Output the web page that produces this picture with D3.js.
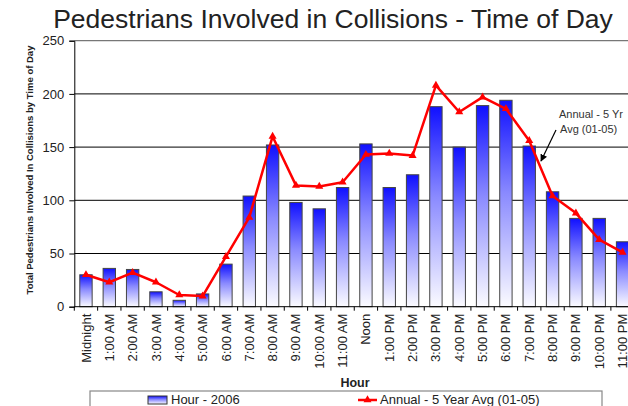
<!DOCTYPE html>
<html>
<head>
<meta charset="utf-8">
<script src="https://cdn.jsdelivr.net/npm/d3@7"></script>
<style>
  html, body { margin: 0; padding: 0; background: #fff; }
  svg { display: block; font-family: "Liberation Sans", Arial, sans-serif; }
</style>
</head>
<body>
<div id="chart"></div>
<script>
'use strict'

const hours = ["Midnight", "1:00 AM", "2:00 AM", "3:00 AM", "4:00 AM", "5:00 AM",
	"6:00 AM", "7:00 AM", "8:00 AM", "9:00 AM", "10:00 AM", "11:00 AM",
	"Noon", "1:00 PM", "2:00 PM", "3:00 PM", "4:00 PM", "5:00 PM",
	"6:00 PM", "7:00 PM", "8:00 PM", "9:00 PM", "10:00 PM", "11:00 PM"]

const hour2006 = [30, 36, 35, 14, 6, 12, 40, 104, 152, 98, 92, 112,
	153, 112, 124, 188, 150, 189, 194, 151, 108, 83, 83, 61]

const avg5yr = [30, 23, 32, 23, 11, 10, 47, 84, 160, 114, 113, 117,
	143, 144, 142, 208, 183, 197, 186, 156, 104, 88, 63, 51]

const yTicks = [0, 50, 100, 150, 200, 250]

function drawChart(){

	let width = 628, height = 406
	let plot = {left: 74.3, top: 40.7, bottom: 306.7, band: 23.33}

	let svg = d3.select("#chart").append("svg")
		.attr("width", width).attr("height", height)

	let defs = svg.append("defs")
	let grad = defs.append("linearGradient").attr("id", "barGrad")
		.attr("x1", 0).attr("y1", 0).attr("x2", 0).attr("y2", 1)
	grad.append("stop").attr("offset", "0%").attr("stop-color", "#1010ff")
	grad.append("stop").attr("offset", "45%").attr("stop-color", "#8a8aff")
	grad.append("stop").attr("offset", "100%").attr("stop-color", "#fbfbff")

	let xScale = d3.scaleBand().domain(hours)
		.range([plot.left, plot.left + plot.band * hours.length])
		.paddingInner(0.47).paddingOuter(0.235)
	let xPoint = d3.scaleBand().domain(hours)
		.range([plot.left, plot.left + plot.band * hours.length])
	let yScale = d3.scaleLinear().domain([0, 250]).range([plot.bottom, plot.top])

	// title
	svg.append("text")
		.attr("x", 333).attr("y", 28)
		.attr("text-anchor", "middle")
		.attr("font-size", 26.5)
		.attr("fill", "#222")
		.text("Pedestrians Involved in Collisions - Time of Day")

	// gridlines
	svg.append("g").selectAll("line")
		.data(yTicks.filter(d => d > 0 && d < 250))
		.enter().append("line")
		.attr("x1", plot.left).attr("x2", width)
		.attr("y1", d => yScale(d)).attr("y2", d => yScale(d))
		.attr("stroke", "#000").attr("stroke-width", 1)
	svg.append("line")
		.attr("x1", plot.left).attr("x2", width)
		.attr("y1", yScale(250)).attr("y2", yScale(250))
		.attr("stroke", "#777").attr("stroke-width", 1.2)

	// y axis
	let yAxis = svg.append("g")
		.attr("transform", "translate(" + plot.left + ",0)")
		.call(d3.axisLeft(yScale).tickValues(yTicks).tickSize(5).tickPadding(5))
	yAxis.selectAll("text").attr("font-size", 13).attr("fill", "#222")
		.attr("font-family", "Liberation Sans, Arial, sans-serif")
	yAxis.selectAll("line, path").attr("stroke", "#000")

	svg.append("text")
		.attr("transform", "translate(30,170) rotate(-90)")
		.attr("text-anchor", "middle")
		.attr("dy", "0.35em")
		.attr("font-size", 9.5)
		.attr("font-weight", "bold")
		.attr("fill", "#222")
		.text("Total Pedestrians Involved In Collisions by Time of Day")

	// bars
	svg.append("g").selectAll("rect")
		.data(hour2006)
		.enter().append("rect")
		.attr("x", (d, i) => xScale(hours[i]))
		.attr("y", d => yScale(d))
		.attr("width", xScale.bandwidth())
		.attr("height", d => plot.bottom - yScale(d))
		.attr("fill", "url(#barGrad)")
		.attr("stroke", "#444")
		.attr("stroke-width", 1)

	// x axis
	let xAxis = svg.append("g")
		.attr("transform", "translate(0," + plot.bottom + ")")
	xAxis.append("line")
		.attr("x1", plot.left).attr("x2", width)
		.attr("stroke", "#000")
	xAxis.selectAll(".tick")
		.data(d3.range(hours.length + 1))
		.enter().append("line")
		.attr("x1", d => plot.left + d * plot.band).attr("x2", d => plot.left + d * plot.band)
		.attr("y1", 0).attr("y2", 4)
		.attr("stroke", "#000")
	xAxis.selectAll(".lbl")
		.data(hours)
		.enter().append("text")
		.attr("transform", d => "translate(" + (xPoint(d) + xPoint.bandwidth() / 2) + ",7) rotate(-90)")
		.attr("text-anchor", "end")
		.attr("dy", "0.35em")
		.attr("font-size", 13)
		.attr("fill", "#222")
		.text(d => d)

	svg.append("text")
		.attr("x", 355).attr("y", 387)
		.attr("text-anchor", "middle")
		.attr("font-size", 12.5)
		.attr("font-weight", "bold")
		.attr("fill", "#222")
		.text("Hour")

	// line
	let line = d3.line()
		.x((d, i) => xPoint(hours[i]) + xPoint.bandwidth() / 2)
		.y(d => yScale(d))
	svg.append("path")
		.datum(avg5yr)
		.attr("d", line)
		.attr("fill", "none")
		.attr("stroke", "#ff0000")
		.attr("stroke-width", 2.5)
		.attr("stroke-linejoin", "round")
	svg.append("g").selectAll("path")
		.data(avg5yr)
		.enter().append("path")
		.attr("transform", (d, i) => "translate(" + (xPoint(hours[i]) + xPoint.bandwidth() / 2) + "," + yScale(d) + ")")
		.attr("d", d3.symbol().type(d3.symbolTriangle).size(28))
		.attr("fill", "#ff0000")

	// annotation
	let ann = svg.append("g").attr("font-size", 11).attr("fill", "#333")
	ann.append("text").attr("x", 559).attr("y", 118).text("Annual - 5 Yr")
	ann.append("text").attr("x", 560).attr("y", 133).text("Avg (01-05)")
	defs.append("marker").attr("id", "arrow")
		.attr("viewBox", "0 0 10 10").attr("refX", 9).attr("refY", 5)
		.attr("markerWidth", 6).attr("markerHeight", 6)
		.attr("orient", "auto")
		.append("path").attr("d", "M0,0L10,5L0,10z").attr("fill", "#000")
	svg.append("line")
		.attr("x1", 556).attr("y1", 130).attr("x2", 541).attr("y2", 161)
		.attr("stroke", "#000").attr("stroke-width", 1.2)
		.attr("marker-end", "url(#arrow)")

	// legend
	let leg = svg.append("g")
	leg.append("rect")
		.attr("x", 90).attr("y", 391).attr("width", 512).attr("height", 30)
		.attr("fill", "#fff").attr("stroke", "#888").attr("stroke-width", 1.2)
	leg.append("rect")
		.attr("x", 148).attr("y", 396).attr("width", 19).attr("height", 8)
		.attr("fill", "url(#barGrad)").attr("stroke", "#333")
	leg.append("text").attr("x", 171).attr("y", 399.5).attr("dy", "0.35em")
		.attr("font-size", 13).attr("fill", "#222").text("Hour - 2006")
	leg.append("line")
		.attr("x1", 358).attr("x2", 377).attr("y1", 400).attr("y2", 400)
		.attr("stroke", "#ff0000").attr("stroke-width", 2.5)
	leg.append("path")
		.attr("transform", "translate(367.5,400)")
		.attr("d", d3.symbol().type(d3.symbolTriangle).size(28))
		.attr("fill", "#ff0000")
	leg.append("text").attr("x", 380).attr("y", 399.5).attr("dy", "0.35em")
		.attr("font-size", 13).attr("fill", "#222").text("Annual - 5 Year Avg (01-05)")
}

drawChart()
</script>
</body>
</html>
